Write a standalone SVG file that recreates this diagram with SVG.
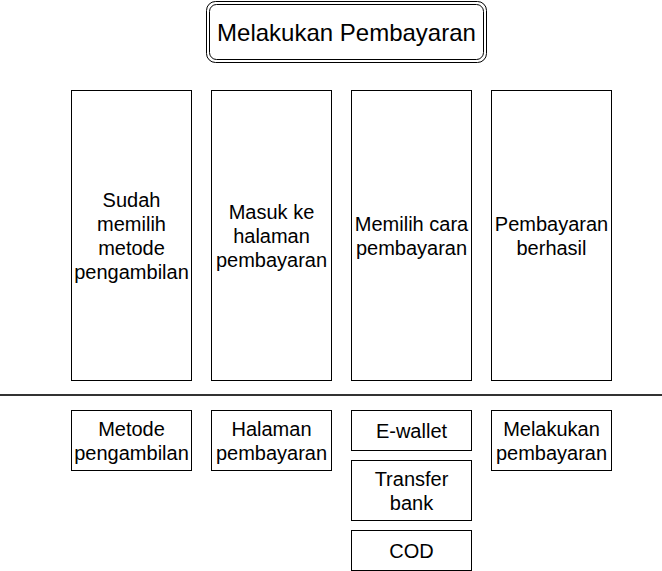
<svg xmlns="http://www.w3.org/2000/svg" width="662" height="571" viewBox="0 0 662 571">
<style>
.b{fill:#fff;stroke:#000;stroke-width:1}
.t{font-family:"Liberation Sans",Arial,sans-serif;font-size:20px;fill:#000;text-anchor:middle}
.ti{font-family:"Liberation Sans",Arial,sans-serif;font-size:24px;fill:#000;text-anchor:middle}
</style>
<rect width="662" height="571" fill="#fff"/>
<g id="title">
<rect class="b" x="206.5" y="1.5" width="280" height="61" rx="9"/>
<rect class="b" x="209.5" y="4.5" width="274" height="55" rx="7"/>
<text class="ti" x="346.5" y="40.5">Melakukan Pembayaran</text>
</g>
<g id="step1">
<rect class="b" x="71.5" y="90.5" width="120" height="290"/>
<text class="t" x="131.5"><tspan x="131.5" y="206.5">Sudah</tspan><tspan x="131.5" y="230.5">memilih</tspan><tspan x="131.5" y="254.5">metode</tspan><tspan x="131.5" y="278.5">pengambilan</tspan></text>
</g>
<g id="step2">
<rect class="b" x="211.5" y="90.5" width="120" height="290"/>
<text class="t" x="271.5"><tspan x="271.5" y="218.5">Masuk ke</tspan><tspan x="271.5" y="242.5">halaman</tspan><tspan x="271.5" y="266.5">pembayaran</tspan></text>
</g>
<g id="step3">
<rect class="b" x="351.5" y="90.5" width="120" height="290"/>
<text class="t" x="411.5"><tspan x="411.5" y="230.5">Memilih cara</tspan><tspan x="411.5" y="254.5">pembayaran</tspan></text>
</g>
<g id="step4">
<rect class="b" x="491.5" y="90.5" width="120" height="290"/>
<text class="t" x="551.5"><tspan x="551.5" y="230.5">Pembayaran</tspan><tspan x="551.5" y="254.5">berhasil</tspan></text>
</g>
<g id="connectors">
<line x1="0" y1="395" x2="662" y2="395" stroke="#333" stroke-width="2"/>
</g>
<g id="metode">
<rect class="b" x="71.5" y="410.5" width="120" height="60"/>
<text class="t"><tspan x="131.5" y="435.5">Metode</tspan><tspan x="131.5" y="459.5">pengambilan</tspan></text>
</g>
<g id="halaman">
<rect class="b" x="211.5" y="410.5" width="120" height="60"/>
<text class="t"><tspan x="271.5" y="435.5">Halaman</tspan><tspan x="271.5" y="459.5">pembayaran</tspan></text>
</g>
<g id="ewallet">
<rect class="b" x="351.5" y="410.5" width="120" height="40"/>
<text class="t" x="411.5" y="437.5">E-wallet</text>
</g>
<g id="transfer">
<rect class="b" x="351.5" y="460.5" width="120" height="60"/>
<text class="t"><tspan x="411.5" y="485.5">Transfer</tspan><tspan x="411.5" y="509.5">bank</tspan></text>
</g>
<g id="cod">
<rect class="b" x="351.5" y="530.5" width="120" height="40"/>
<text class="t" x="411.5" y="557.5">COD</text>
</g>
<g id="melakukan">
<rect class="b" x="491.5" y="410.5" width="120" height="60"/>
<text class="t"><tspan x="551.5" y="435.5">Melakukan</tspan><tspan x="551.5" y="459.5">pembayaran</tspan></text>
</g>
</svg>
